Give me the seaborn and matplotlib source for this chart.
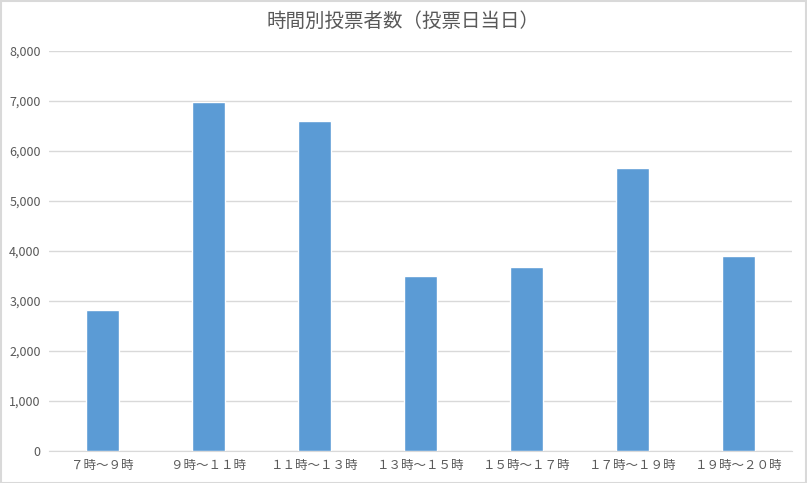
import pandas as pd
import matplotlib.pyplot as plt
import seaborn as sns
from matplotlib.patches import Rectangle

# 時間帯ごとの投票者数
slots = ['７時～９時', '９時～１１時', '１１時～１３時', '１３時～１５時',
         '１５時～１７時', '１７時～１９時', '１９時～２０時']
voters = [2820, 6980, 6600, 3500, 3680, 5660, 3900]

df = pd.DataFrame({'slot': slots, 'voters': voters})

sns.set_style('white')
plt.rcParams['font.family'] = ['Noto Sans CJK JP', 'DejaVu Sans']

fig = plt.figure(figsize=(8.07, 4.83), dpi=100)
ax = fig.add_axes([49 / 807, 1 - 451 / 483, 743 / 807, 400 / 483])

sns.barplot(data=df, x='slot', y='voters', color='#5b9bd5', width=0.31,
            saturation=1, ax=ax, zorder=3)

ax.set_ylim(0, 8000)
ax.set_xlim(-0.5, len(slots) - 0.5)
ax.set_yticks(range(0, 8001, 1000))
ax.set_yticklabels([f'{v:,}' for v in range(0, 8001, 1000)])
ax.yaxis.grid(True, color='#d9d9d9', linewidth=1, zorder=0)
ax.set_xlabel('')
ax.set_ylabel('')
ax.tick_params(axis='both', length=0, colors='#595959', labelsize=9)
ax.tick_params(axis='x', pad=6)
ax.tick_params(axis='y', pad=6)
for side in ['left', 'right', 'top']:
    ax.spines[side].set_visible(False)
ax.spines['bottom'].set_color('#d9d9d9')

fig.text(0.5, 1 - 21 / 483, '時間別投票者数（投票日当日）', ha='center', va='center',
         fontsize=14, color='#595959')

fig.patches.append(Rectangle((0.001, 0.001), 0.998, 0.997, transform=fig.transFigure,
                             fill=False, edgecolor='#d9d9d9', linewidth=1.5))

fig.savefig('out.png', dpi=100)
